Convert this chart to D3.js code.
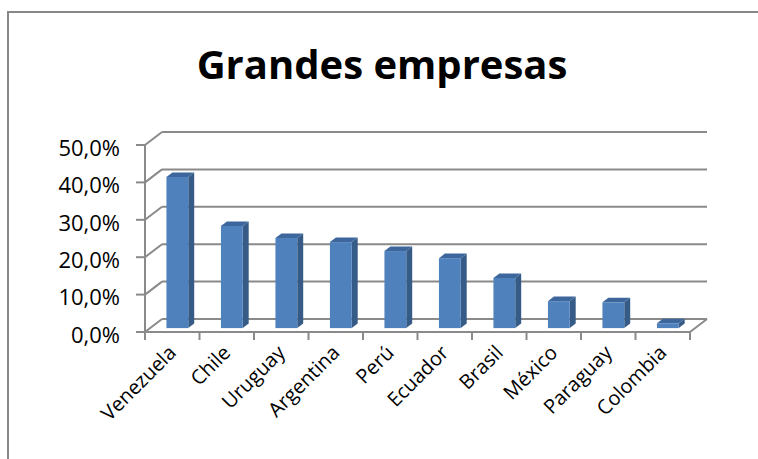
<!DOCTYPE html>
<html><head><meta charset="utf-8">
<script src="https://cdn.jsdelivr.net/npm/d3@7"></script>
<style>html,body{margin:0;padding:0;background:#fff;}svg{display:block;}</style>
</head><body>
<svg id="c" width="758" height="459"></svg>
<script>
const categories = ["Venezuela","Chile","Uruguay","Argentina","Perú","Ecuador","Brasil","México","Paraguay","Colombia"];
const values = [40.4, 27.3, 24.1, 23.0, 20.6, 18.7, 13.4, 7.2, 6.9, 1.3];
const yTicks = [0, 10, 20, 30, 40, 50];
const title = "Grandes empresas";

const svg = d3.select("#c");
const FONT = "'Open Sans', 'Noto Sans', sans-serif";
// frame
svg.append("rect").attr("x", 8).attr("y", 12).attr("width", 760).attr("height", 460)
  .attr("fill", "#fff").attr("stroke", "#888").attr("stroke-width", 2);

svg.append("text").attr("x", 382).attr("y", 79).attr("text-anchor", "middle")
  .attr("font-family", FONT).attr("font-weight", "bold").attr("font-size", 40)
  .attr("fill", "#000").text(title);

const x = d3.scaleBand().domain(categories).range([145, 690]).padding(0);
const y = d3.scaleLinear().domain([0, 50]).range([332, 145]);
const DX = 17, DY = -13;      // depth of the plot box
const grid = "#8a8a8a";

const g = svg.append("g");
// back wall gridlines + left wall diagonals
yTicks.forEach(t => {
  g.append("line").attr("x1", 145 + DX).attr("y1", y(t) + DY).attr("x2", 690 + DX).attr("y2", y(t) + DY)
    .attr("stroke", grid).attr("stroke-width", 2);
  g.append("line").attr("x1", 145).attr("y1", y(t)).attr("x2", 145 + DX).attr("y2", y(t) + DY)
    .attr("stroke", grid).attr("stroke-width", 2);
});
// floor front line and right diagonal
g.append("line").attr("x1", 145).attr("y1", y(0)).attr("x2", 690).attr("y2", y(0)).attr("stroke", grid).attr("stroke-width", 2);
g.append("line").attr("x1", 690).attr("y1", y(0)).attr("x2", 690 + DX).attr("y2", y(0) + DY).attr("stroke", grid).attr("stroke-width", 2);
// y axis
g.append("line").attr("x1", 145).attr("y1", y(50)).attr("x2", 145).attr("y2", y(0)).attr("stroke", grid).attr("stroke-width", 2);
yTicks.forEach(t => {
  g.append("line").attr("x1", 136).attr("y1", y(t)).attr("x2", 145).attr("y2", y(t)).attr("stroke", grid).attr("stroke-width", 2);
  g.append("text").attr("x", 120).attr("y", y(t) + 3).attr("dy", "0.35em").attr("text-anchor", "end")
    .attr("font-family", FONT).attr("font-size", 22).attr("fill", "#000")
    .text(d3.format(".1f")(t).replace(".", ",") + "%");
});
// x ticks
const bounds = categories.map(c => x(c)).concat([690]);
bounds.forEach(b => {
  g.append("line").attr("x1", b).attr("y1", y(0)).attr("x2", b).attr("y2", y(0) + 8).attr("stroke", grid).attr("stroke-width", 2);
});

// bars
const f = 0.3, depth = 0.35;
const bw = x.bandwidth();
const bars = g.append("g");
categories.forEach((c, i) => {
  const v = values[i];
  const x0 = x(c) + bw * 0.3 + f * DX;
  const x1 = x0 + bw * 0.4;
  const yb = y(0) + f * DY;
  const yt = y(v) + f * DY;
  const ddx = depth * DX, ddy = depth * DY;
  bars.append("polygon").attr("points", [[x1, yb], [x1 + ddx, yb + ddy], [x1 + ddx, yt + ddy], [x1, yt]].join(" "))
    .attr("fill", "#375b87");
  bars.append("polygon").attr("points", [[x0, yt], [x1, yt], [x1 + ddx, yt + ddy], [x0 + ddx, yt + ddy]].join(" "))
    .attr("fill", "#3d679c");
  bars.append("rect").attr("x", x0).attr("y", yt).attr("width", x1 - x0).attr("height", yb - yt)
    .attr("fill", "#4f81bd");
});

// x labels
categories.forEach(c => {
  const cx = x(c) + bw / 2 + 5, cy = 354;
  g.append("text").attr("transform", `translate(${cx},${cy}) rotate(-45)`)
    .attr("text-anchor", "end").attr("font-family", FONT).attr("font-size", 20).attr("fill", "#000")
    .text(c);
});
</script>
</body></html>
